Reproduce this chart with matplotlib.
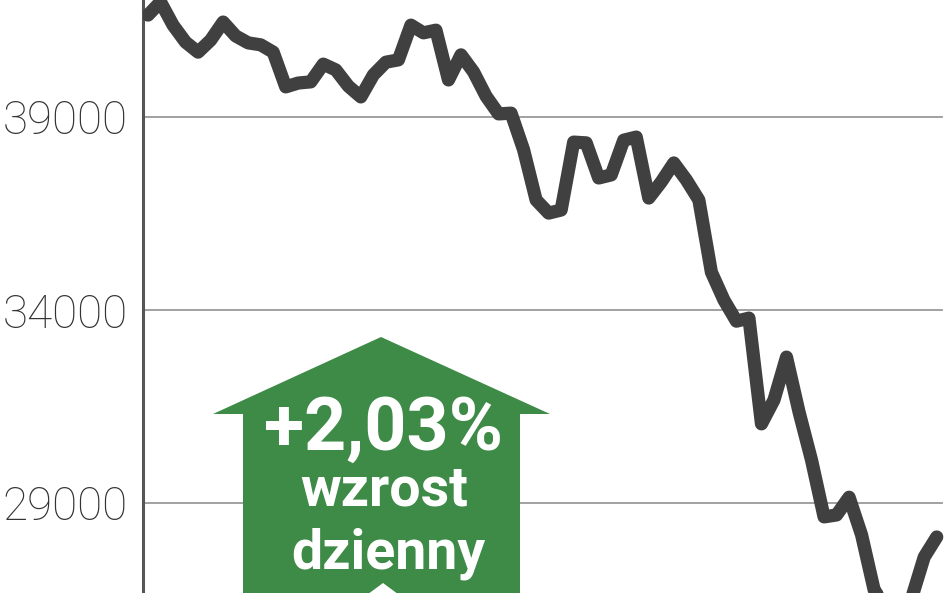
import numpy as np
import matplotlib
matplotlib.use('Agg')
import matplotlib.pyplot as plt
from matplotlib.patches import Polygon

# daily index values
values = [41640, 41980, 41380, 40940, 40680, 40990, 41460, 41100, 40920, 40870,
          40680, 39780, 39880, 39910, 40370, 40220, 39800, 39520, 40090, 40420,
          40480, 41380, 41180, 41250, 39960, 40610, 40170, 39540, 39080, 39100,
          38150, 36850, 36510, 36590, 38350, 38330, 37420, 37500, 38400, 38480,
          36900, 37320, 37810, 37370, 36850, 34980, 34260, 33710, 33790, 31050,
          31670, 32780, 31360, 30110, 28640, 28690, 29150, 28170, 26750, 26280,
          26180, 26540, 27600, 28120]
days = np.arange(len(values))
yticks = [29000, 34000, 39000]
badge_lines = ['+2,03%', 'wzrost', 'dzienny']

W, H = 948, 593
fig = plt.figure(figsize=(W / 100, H / 100), dpi=100)
ax = fig.add_axes([143 / W, 0, (W - 143) / W, 1])

ax.set_ylim(29000 - 90 * 5000 / 193, 39000 + 117 * 5000 / 193)
ax.set_xlim(-0.4, 63.9)

for t in yticks:
    ax.axhline(t, xmin=0, xmax=0.992, color='#9a9a9a', lw=1.3, zorder=1)

ax.plot(days, values, color='#404040', lw=9.5, solid_joinstyle='round',
        solid_capstyle='round', zorder=3)

for s in ['top', 'right', 'bottom']:
    ax.spines[s].set_visible(False)
ax.spines['left'].set_color('#555555')
ax.spines['left'].set_linewidth(2.2)
ax.set_xticks([])
ax.set_yticks(yticks)
ax.set_yticklabels([str(t) for t in yticks], fontsize=33, color='#333333',
                   family='Roboto', fontweight='light')
ax.tick_params(axis='y', length=0, pad=11)


def fx(px):
    return px / W


def fy(py):
    return 1 - py / H


green = '#3e8a47'
arrow = [(243, 600), (243, 414), (213, 414), (381, 337), (550, 414),
         (520, 414), (520, 600)]
fig.patches.append(Polygon([(fx(x), fy(y)) for x, y in arrow], closed=True,
                           transform=fig.transFigure, facecolor=green,
                           edgecolor='none', zorder=5))
tip = [(360, 600), (383, 583), (406, 600)]
fig.patches.append(Polygon([(fx(x), fy(y)) for x, y in tip], closed=True,
                           transform=fig.transFigure, facecolor='white',
                           edgecolor='none', zorder=6))

fig.text(fx(384), fy(430), badge_lines[0], color='white', fontsize=53,
         fontweight='bold', family='Roboto', ha='center', va='center', zorder=7)
fig.text(fx(384), fy(490), badge_lines[1], color='white', fontsize=40,
         fontweight='bold', family='Roboto', ha='center', va='center', zorder=7)
fig.text(fx(388), fy(568), badge_lines[2], color='white', fontsize=40,
         fontweight='bold', family='Roboto', ha='center', va='baseline', zorder=7)

fig.savefig('out.png', dpi=100)
